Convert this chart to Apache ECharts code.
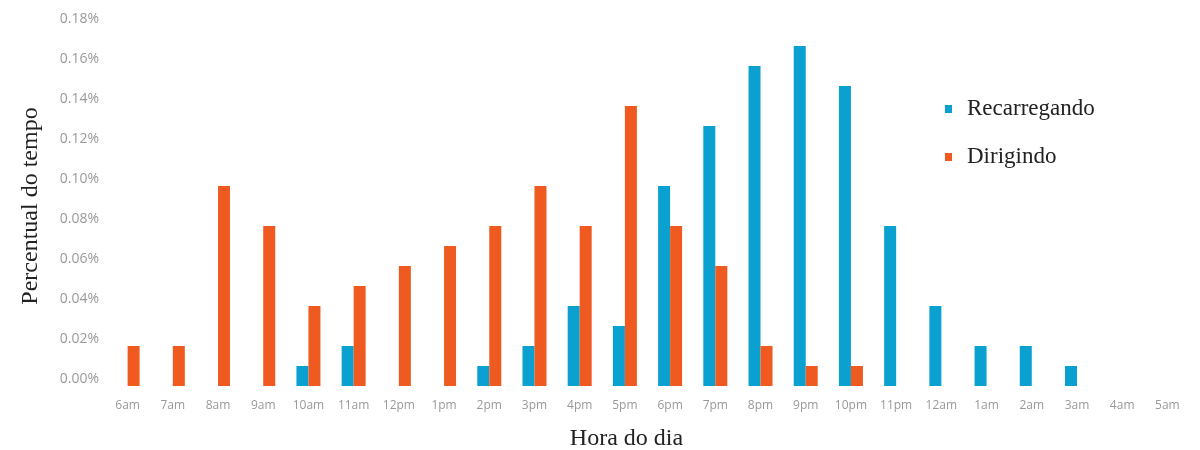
<!DOCTYPE html>
<html>
<head>
<meta charset="utf-8">
<script src="https://cdn.jsdelivr.net/npm/echarts@6/dist/echarts.min.js"></script>
<style>
html,body{margin:0;padding:0;background:#fff;}
#chart{width:1200px;height:450px;}
</style>
</head>
<body>
<div id="chart"></div>
<script>
const hours = ['6am','7am','8am','9am','10am','11am','12pm','1pm','2pm','3pm','4pm','5pm','6pm','7pm','8pm','9pm','10pm','11pm','12am','1am','2am','3am','4am','5am'];
const recarregando = [null,null,null,null,0.01,0.02,null,null,0.01,0.02,0.04,0.03,0.10,0.13,0.16,0.17,0.15,0.08,0.04,0.02,0.02,0.01,null,null];
const dirigindo = [0.02,0.02,0.10,0.08,0.04,0.05,0.06,0.07,0.08,0.10,0.08,0.14,0.08,0.06,0.02,0.01,0.01,null,null,null,null,null,null,null];
const yTicks = {min:0, max:0.18, interval:0.02};

const chart = echarts.init(document.getElementById('chart'));
chart.setOption({
  animation:false,
  backgroundColor:'#ffffff',
  grid:{left:105, right:10, top:26, bottom:64, outerBoundsMode:'none', containLabel:false},
  legend:{
    orient:'vertical', left:940, top:92, itemGap:24,
    icon:'rect', itemWidth:7, itemHeight:8,
    textStyle:{fontFamily:'Liberation Serif', fontSize:23, color:'#222', lineHeight:24, padding:[0,0,0,10]},
    data:['Recarregando','Dirigindo']
  },
  xAxis:{
    type:'category', data:hours,
    axisLine:{show:false}, axisTick:{show:false},
    axisLabel:{interval:0, margin:14, color:'#999', fontFamily:'Open Sans', fontSize:12},
    name:'Hora do dia', nameLocation:'middle', nameGap:41,
    nameTextStyle:{fontFamily:'Liberation Serif', fontSize:24, color:'#222', padding:[0,42,0,0]}
  },
  yAxis:{
    type:'value', min:yTicks.min, max:yTicks.max, interval:yTicks.interval,
    axisLine:{show:false}, axisTick:{show:false}, splitLine:{show:false},
    axisLabel:{margin:6, color:'#999', fontFamily:'Open Sans', fontSize:14, lineHeight:14,
      verticalAlign:'bottom', formatter:v=>v.toFixed(2)+'%'},
    name:'Percentual do tempo', nameLocation:'middle', nameGap:62,
    nameTextStyle:{fontFamily:'Liberation Serif', fontSize:24, color:'#222'}
  },
  series:[
    {name:'Recarregando', type:'bar', data:recarregando, barWidth:12, barGap:'0%', itemStyle:{color:'#0aa0cf'}},
    {name:'Dirigindo', type:'bar', data:dirigindo, barWidth:12, barGap:'0%', itemStyle:{color:'#ee5a20'}}
  ]
});
</script>
</body>
</html>
